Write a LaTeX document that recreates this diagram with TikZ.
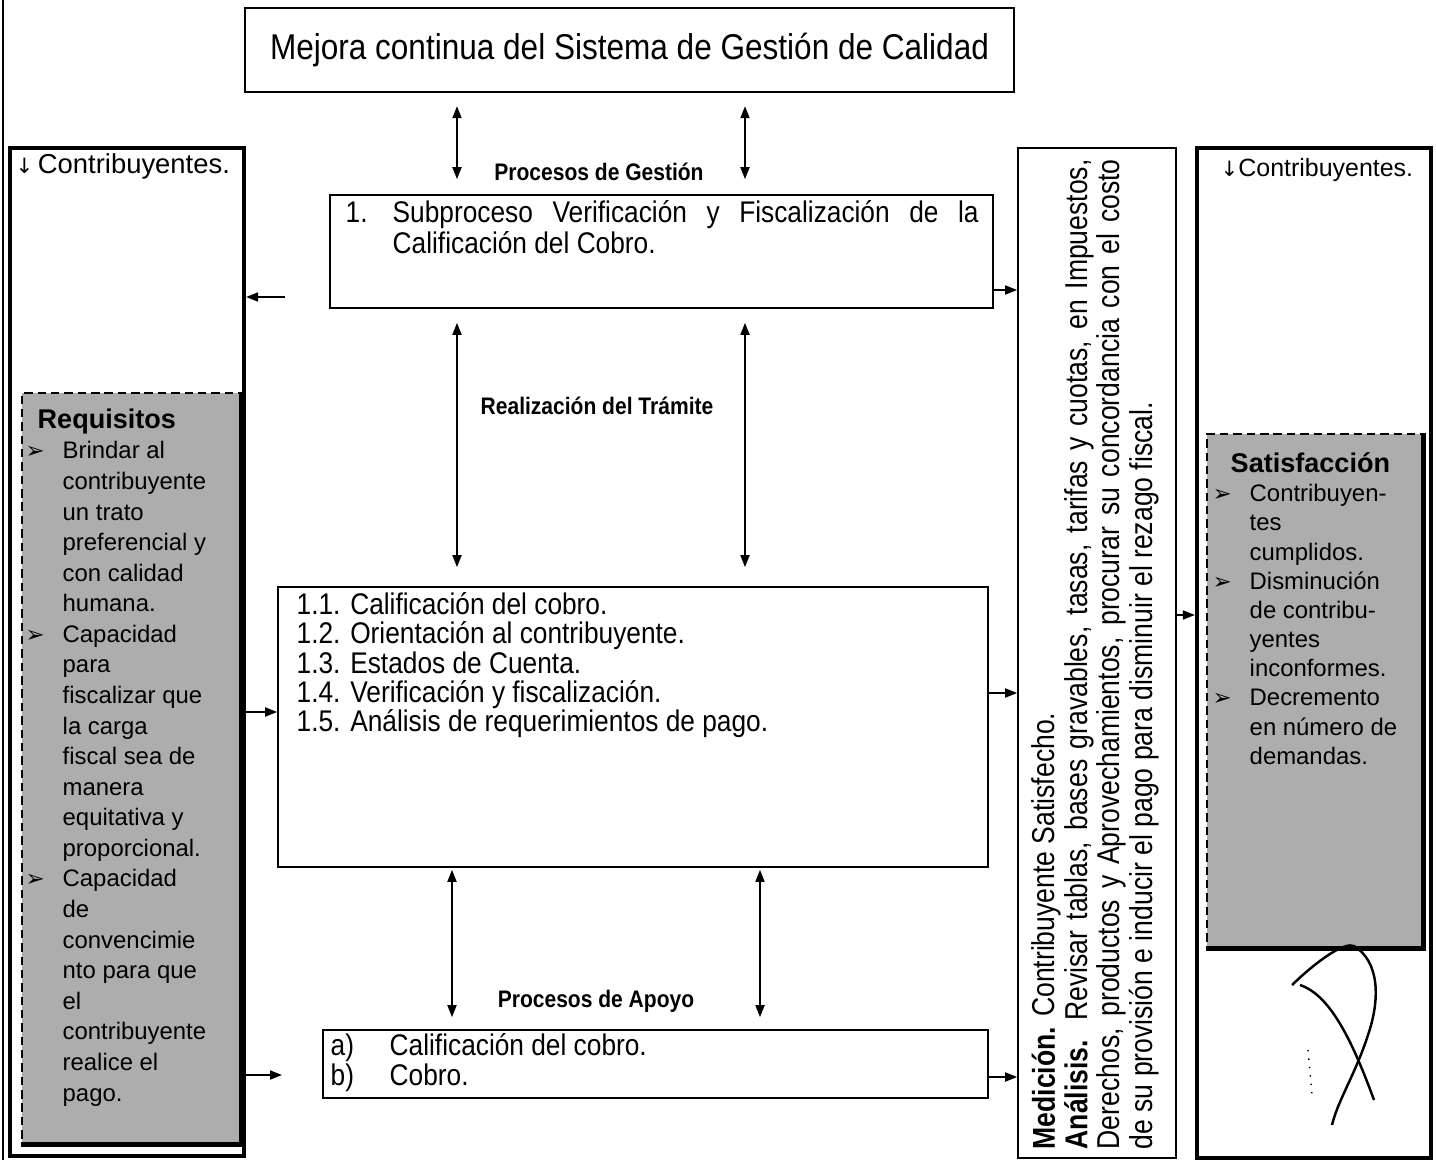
\documentclass[tikz,border=0pt]{standalone}
\usepackage{fontspec}
\setmainfont{Liberation Sans}
\newfontfamily\narrow{Liberation Sans}[FakeStretch=0.88]
\newfontfamily\vnarrow{Liberation Sans}[FakeStretch=0.84]
\newfontfamily\symb{DejaVu Sans}
\usetikzlibrary{arrows.meta}
\tikzset{>={Triangle[length=1.2mm, width=0.9mm]},
  box/.style={draw, line width=0.45pt, inner sep=0pt},
  frame/.style={draw, line width=1.2pt, inner sep=0pt},
  shadebox/.style={draw, dash pattern=on 2.4pt off 1.4pt, line width=0.8pt, fill=black!32, inner sep=0pt},
  txt/.style={inner sep=0pt, anchor=north west, align=left},
  lbl/.style={inner sep=0pt, font=\narrow\bfseries\fontsize{6.8}{8}\selectfont},
  arr/.style={->, line width=0.5pt},
  dbl/.style={<->, line width=0.5pt}}
\newcommand{\bul}{\makebox[3.7mm][l]{\symb\fontsize{6.5}{6}\selectfont ➢}}
\newcommand{\ind}{\hspace*{3.7mm}}

\begin{document}
\begin{tikzpicture}[x=0.1mm, y=-0.1mm]
\useasboundingbox (0,0) rectangle (1436,1160);
\draw[line width=0.6pt] (3,0) -- (3,1160);

% central column
\node[box, line width=0.7pt, minimum width=76.9mm, minimum height=8.4mm, font=\narrow\fontsize{10.2}{12}\selectfont] (mejora) at (629.5,50) {Mejora continua del Sistema de Gestión de Calidad};
\node[lbl] (gestion) at (599,172) {Procesos de Gestión};
\node[box, minimum width=66.3mm, minimum height=11.3mm] (sub) at (661.5,251.5) {};
\node[txt, font=\narrow\fontsize{8.5}{8.8}\selectfont] (subtxt) at (345,200) {\makebox[4.7mm][l]{1.}\parbox[t]{58.6mm}{Subproceso Verificación y Fiscalización de la\linebreak Calificación del Cobro.}};
\node[lbl] (tramite) at (597,406) {Realización del Trámite};
\node[box, minimum width=71mm, minimum height=28mm] (etapas) at (633,727) {};
\node[txt, font=\narrow\fontsize{8.5}{8.3}\selectfont] (etxt) at (296,592) {1.1. Calificación del cobro.\\1.2. Orientación al contribuyente.\\1.3. Estados de Cuenta.\\1.4. Verificación y fiscalización.\\1.5. Análisis de requerimientos de pago.};
\node[lbl] (apoyolbl) at (596,1001) {Procesos de Apoyo};
\node[box, minimum width=66.5mm, minimum height=6.8mm] (apoyo) at (655.5,1064) {};
\node[txt, font=\narrow\fontsize{8.5}{8.5}\selectfont] (atxt) at (330,1033) {\makebox[5.9mm][l]{a)}Calificación del cobro.\\\makebox[5.9mm][l]{b)}Cobro.};

% left column
\node[frame, minimum width=23.4mm, minimum height=100.8mm] (izq) at (127,652) {};
\node[inner sep=0pt, anchor=west, font=\fontsize{7.8}{9}\selectfont] (cizq) at (15,166) {{\symb\fontsize{6}{6}\selectfont ↓}\,Contribuyentes.};
\node[shadebox, minimum width=21.8mm, minimum height=75mm] (req) at (131,768) {};
\draw[line width=1.4pt] (req.north east) -- (req.south east) -- (req.south west);
\node[txt, font=\fontsize{6.8}{8.7}\selectfont] (reqtxt) at (25,408) {\hspace*{1.2mm}{\bfseries\fontsize{7.7}{8.7}\selectfont Requisitos}\\
\bul Brindar al\\ \ind contribuyente\\ \ind un trato\\ \ind preferencial y\\ \ind con calidad\\ \ind humana.\\
\bul Capacidad\\ \ind para\\ \ind fiscalizar que\\ \ind la carga\\ \ind fiscal sea de\\ \ind manera\\ \ind equitativa y\\ \ind proporcional.\\
\bul Capacidad\\ \ind de\\ \ind convencimie\\ \ind nto para que\\ \ind el\\ \ind contribuyente\\ \ind realice el\\ \ind pago.};

% measurement column
\node[box, minimum width=15.8mm, minimum height=101mm] (med) at (1097,653) {};
\node[rotate=90, inner sep=0pt, anchor=north west, font=\vnarrow\fontsize{9}{9.25}\selectfont] (medtxt) at (1031,1150) {\parbox[t]{99mm}{{\bfseries Medición.} Contribuyente Satisfecho.\\
{\bfseries Análisis.} Revisar tablas, bases gravables, tasas, tarifas y cuotas, en Impuestos,\linebreak Derechos, productos y Aprovechamientos, procurar su concordancia con el costo\linebreak de su provisión e inducir el pago para disminuir el rezago fiscal.}};

% right column
\node[frame, minimum width=23.4mm, minimum height=101mm] (der) at (1314,653) {};
\node[inner sep=0pt, anchor=west, font=\fontsize{7.1}{9}\selectfont] (cder) at (1220,170) {{\symb\fontsize{6}{6}\selectfont ↓}Contribuyentes.};
\node[shadebox, minimum width=21.5mm, minimum height=51.3mm] (sat) at (1314.5,690.5) {};
\draw[line width=1.4pt] (sat.north east) -- (sat.south east) -- (sat.south west);
\node[txt, font=\fontsize{6.8}{8.3}\selectfont] (sattxt) at (1212,452) {\hspace*{1.8mm}{\bfseries\fontsize{7.7}{8.3}\selectfont Satisfacción}\\
\bul Contribuyen-\\ \ind tes\\ \ind cumplidos.\\
\bul Disminución\\ \ind de contribu-\\ \ind yentes\\ \ind inconformes.\\
\bul Decremento\\ \ind en número de\\ \ind demandas.};
\draw[line width=0.7pt] (1292,985) .. controls (1320,958) and (1345,942) .. (1354,946) .. controls (1380,962) and (1380,1000) .. (1368,1035) .. controls (1355,1075) and (1338,1100) .. (1332,1125);
\draw[line width=0.7pt] (1300,985) .. controls (1330,995) and (1352,1040) .. (1374,1100);
\draw[line width=0.4pt, dotted] (1308,1050) -- (1312,1095);

% connectors
\coordinate (ca) at (457,0);
\coordinate (cb) at (745,0);
\coordinate (cc) at (452,0);
\coordinate (cd) at (760,0);
\coordinate (p1) at (285,297);
\coordinate (p2) at (0,712);
\coordinate (p3) at (282,1075);
\coordinate (h1) at (0,290);
\coordinate (h2) at (0,693);
\coordinate (h3) at (0,1077);
\coordinate (h4) at (0,615);

\draw (mejora.south -| ca) edge[dbl, shorten <=1.3mm, shorten >=1.5mm] (sub.north -| ca)
    (mejora.south -| cb) edge[dbl, shorten <=1.3mm, shorten >=1.5mm] (sub.north -| cb)
    (sub.south -| ca) edge[dbl, shorten <=1.4mm, shorten >=1.9mm] (etapas.north -| ca)
    (sub.south -| cb) edge[dbl, shorten <=1.4mm, shorten >=1.9mm] (etapas.north -| cb)
    (etapas.south -| cc) edge[dbl, shorten <=0.2mm, shorten >=1.2mm] (apoyo.north -| cc)
    (etapas.south -| cd) edge[dbl, shorten <=0.2mm, shorten >=1.2mm] (apoyo.north -| cd)
    (p1) edge[arr] (izq.east |- p1)
    (izq.east |- p2) edge[arr] (etapas.west |- p2)
    (izq.east |- p3) edge[arr] (p3)
    (sub.east |- h1) edge[arr] (med.west |- h1)
    (etapas.east |- h2) edge[arr] (med.west |- h2)
    (apoyo.east |- h3) edge[arr] (med.west |- h3)
    (med.east |- h4) edge[arr] (der.west |- h4);
\end{tikzpicture}
\end{document}
